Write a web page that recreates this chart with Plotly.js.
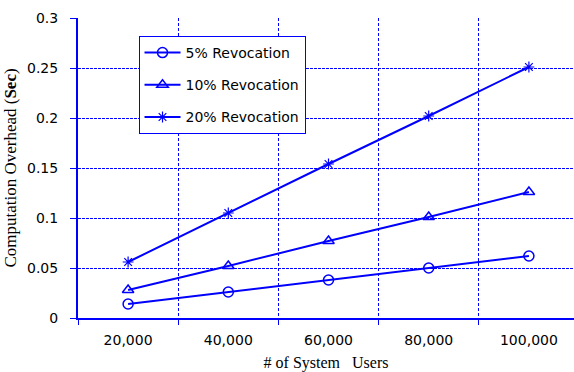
<!DOCTYPE html>
<html>
<head>
<meta charset="utf-8">
<script src="https://cdn.plot.ly/plotly-3.0.1.min.js"></script>
<style>html,body{margin:0;padding:0;background:#fff;}#chart{width:574px;height:372px;}</style>
</head>
<body>
<div id="chart"></div>
<script>
const users = [20000, 40000, 60000, 80000, 100000];
const tickLabels = ["20,000", "40,000", "60,000", "80,000", "100,000"];
const rev5 = [0.014, 0.026, 0.038, 0.050, 0.062];
const rev10 = [0.028, 0.052, 0.077, 0.101, 0.126];
const rev20 = [0.056, 0.105, 0.154, 0.202, 0.251];
const seriesNames = ["5% Revocation", "10% Revocation", "20% Revocation"];
const gridVals = [10000, 30000, 50000, 70000, 90000];

const blue = "#0000FF";
function mk(y, name, sym, size, lw, grp) {
  return {
    x: users, y: y, name: name, type: "scatter", mode: "lines+markers",
    legendgroup: grp,
    line: {color: blue, width: 2},
    marker: {symbol: sym, size: size, color: blue, line: {color: blue, width: lw}}
  };
}
const data = [
  mk(rev5, seriesNames[0], "circle-open", 10, 1.5, "a"),
  mk(rev10, seriesNames[1], "triangle-up-open", 10, 1.5, "b"),
  mk(rev20, seriesNames[2], "asterisk-open", 9, 1.2, "c")
];

const layout = {
  width: 574, height: 372,
  margin: {l: 78, r: 0, t: 18, b: 54},
  paper_bgcolor: "#fff", plot_bgcolor: "#fff",
  font: {family: "DejaVu Sans", size: 14, color: "#000"},
  showlegend: true,
  legend: {
    x: 0.122, y: 0.94, xanchor: "left", yanchor: "top",
    bgcolor: "#fff", bordercolor: blue, borderwidth: 1,
    font: {family: "DejaVu Sans", size: 14, color: "#000"},
    traceorder: "grouped", tracegroupgap: 11, itemwidth: 36
  },
  xaxis: {
    range: [10000, 109000],
    tickmode: "array", tickvals: users, ticktext: tickLabels,
    ticks: "", showgrid: false, zeroline: false,
    showline: true, linecolor: blue, linewidth: 2,
    tickfont: {family: "DejaVu Sans", size: 14, color: "#000"},
    ticklabelstandoff: 8,
    minor: {tickmode: "array", tickvals: gridVals, ticks: "outside", ticklen: 5, tickcolor: blue, tickwidth: 1,
            showgrid: true, gridcolor: blue, griddash: "3px,2px", gridwidth: 1},
    title: {text: "# of System\u00a0\u00a0 Users", font: {family: "Liberation Serif", size: 16, color: "#000"}, standoff: 11}
  },
  yaxis: {
    range: [0, 0.3], tickmode: "linear", tick0: 0, dtick: 0.05,
    ticks: "outside", ticklen: 6, tickcolor: blue, tickwidth: 1,
    showgrid: true, gridcolor: blue, griddash: "3px,1px", gridwidth: 1,
    zeroline: false, showline: true, linecolor: blue, linewidth: 2,
    tickfont: {family: "DejaVu Sans", size: 14, color: "#000"},
    ticklabelstandoff: 9,
    title: {text: "Computation Overhead (<b>Sec</b>)", font: {family: "Liberation Serif", size: 17, color: "#000"}, standoff: 6}
  }
};

Plotly.newPlot("chart", data, layout, {displayModeBar: false, staticPlot: true});
</script>
</body>
</html>
